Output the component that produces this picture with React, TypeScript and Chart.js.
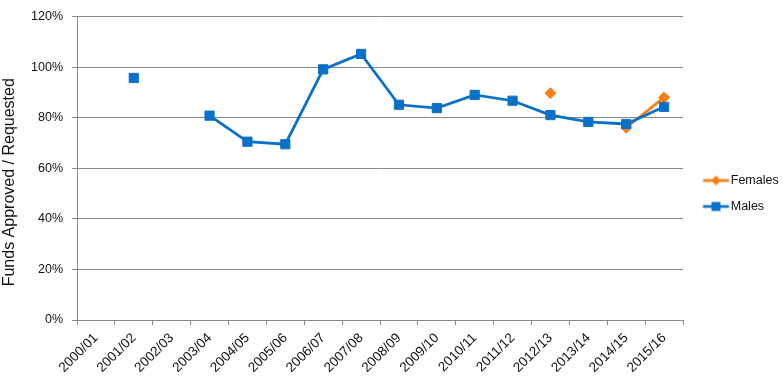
import React, { useEffect, useRef } from 'react';
import { Chart, registerables } from 'chart.js';

Chart.register(...registerables);

const categories = [
  '2000/01', '2001/02', '2002/03', '2003/04', '2004/05', '2005/06', '2006/07', '2007/08',
  '2008/09', '2009/10', '2010/11', '2011/12', '2012/13', '2013/14', '2014/15', '2015/16',
];
const malesValues: (number | null)[] = [
  null, 95.7, null, 80.8, 70.5, 69.5, 99.1, 105.2, 85.1, 83.8, 89.0, 86.7, 81.0, 78.3, 77.5, 84.3,
];
const femalesValues: (number | null)[] = [
  null, null, null, null, null, null, null, null, null, null, null, null, 89.7, null, 76.0, 88.0,
];
const seriesNames = ['Males', 'Females'];
const yAxisTitle = 'Funds Approved / Requested';
const yMin = 0;
const yMax = 120;
const yStep = 20;

const BLUE = '#0A70C8';
const ORANGE = '#FF7F14';
const GRID = '#888888';
const TEXT = '#111111';
const FONT = "'Liberation Sans', Arial, sans-serif";

function legendIcon(color: string, shape: 'square' | 'diamond', offsetX: number) {
  const c = document.createElement('canvas');
  c.width = 40;
  c.height = 12;
  const ctx = c.getContext('2d')!;
  ctx.strokeStyle = color;
  ctx.lineWidth = 2.75;
  ctx.beginPath();
  ctx.moveTo(offsetX, 6);
  ctx.lineTo(offsetX + 26, 6);
  ctx.stroke();
  ctx.fillStyle = color;
  const cx = offsetX + 13;
  if (shape === 'square') {
    ctx.fillRect(cx - 4.5, 1.5, 9, 9);
  } else {
    ctx.beginPath();
    ctx.moveTo(cx, 1);
    ctx.lineTo(cx + 5, 6);
    ctx.lineTo(cx, 11);
    ctx.lineTo(cx - 5, 6);
    ctx.closePath();
    ctx.fill();
  }
  return c;
}

const yTitlePlugin = {
  id: 'yTitlePlugin',
  afterDraw(chart: any) {
    const ctx = chart.ctx;
    const area = chart.chartArea;
    ctx.save();
    ctx.translate(10, (area.top + area.bottom) / 2 + 14);
    ctx.rotate(-Math.PI / 2);
    ctx.font = `16px ${FONT}`;
    ctx.fillStyle = TEXT;
    ctx.textAlign = 'center';
    ctx.textBaseline = 'middle';
    ctx.fillText(yAxisTitle, 0, 0);
    ctx.restore();
  },
};

export default function App() {
  const ref = useRef<HTMLCanvasElement | null>(null);

  useEffect(() => {
    if (!ref.current) return;
    const maleIcon = legendIcon(BLUE, 'square', 12.5);
    const femaleIcon = legendIcon(ORANGE, 'diamond', 12.5);
    const chart = new Chart(ref.current, {
      type: 'line',
      data: {
        labels: categories,
        datasets: [
          {
            label: seriesNames[0],
            data: malesValues,
            borderColor: BLUE,
            backgroundColor: BLUE,
            borderWidth: 2.75,
            pointStyle: 'rect',
            pointRadius: 6.5,
            pointBorderWidth: 1,
            pointBackgroundColor: BLUE,
            pointBorderColor: BLUE,
            spanGaps: false,
            tension: 0,
          },
          {
            label: seriesNames[1],
            data: femalesValues,
            borderColor: ORANGE,
            backgroundColor: ORANGE,
            borderWidth: 2.75,
            pointStyle: 'rectRot',
            pointRadius: 5.5,
            pointBorderWidth: 1,
            pointBackgroundColor: ORANGE,
            pointBorderColor: ORANGE,
            spanGaps: false,
            tension: 0,
          },
        ],
      },
      options: {
        responsive: false,
        animation: false,
        layout: { padding: { top: 15, bottom: 12, left: 0, right: 0 } },
        plugins: {
          tooltip: { enabled: false },
          legend: {
            display: true,
            position: 'right',
            reverse: true,
            maxWidth: 100,
            labels: {
              usePointStyle: true,
              pointStyleWidth: 28,
              padding: 13.5,
              color: TEXT,
              font: { family: FONT, size: 12.5 },
              generateLabels: (ch: any) => {
                const items = Chart.defaults.plugins.legend.labels.generateLabels(ch);
                items.forEach((it: any) => {
                  it.pointStyle = it.datasetIndex === 0 ? maleIcon : femaleIcon;
                });
                return items;
              },
            },
          },
        },
        scales: {
          x: {
            type: 'category',
            offset: true,
            afterFit: (s: any) => { s.height = 52; },
            grid: {
              offset: true,
              drawOnChartArea: false,
              drawTicks: true,
              tickLength: 5,
              color: GRID,
            },
            border: { display: true, color: GRID, width: 1 },
            ticks: {
              autoSkip: false,
              minRotation: 45,
              maxRotation: 45,
              padding: 5,
              color: TEXT,
              font: { family: FONT, size: 13.5 },
            },
          },
          y: {
            min: yMin,
            max: yMax,
            afterFit: (s: any) => { s.width = 77; },
            grid: {
              color: GRID,
              drawTicks: true,
              tickLength: 5,
            },
            border: { display: true, color: GRID, width: 1 },
            ticks: {
              stepSize: yStep,
              padding: 9,
              color: TEXT,
              font: { family: FONT, size: 12.5 },
              callback: (v: any) => `${v}%`,
            },
          },
        },
      },
      plugins: [yTitlePlugin],
    });
    return () => chart.destroy();
  }, []);

  return (
    <div style={{ position: 'fixed', left: 0, top: 0, width: 783, height: 384, background: '#fff' }}>
      <canvas ref={ref} width={783} height={384} style={{ display: 'block' }} />
    </div>
  );
}
